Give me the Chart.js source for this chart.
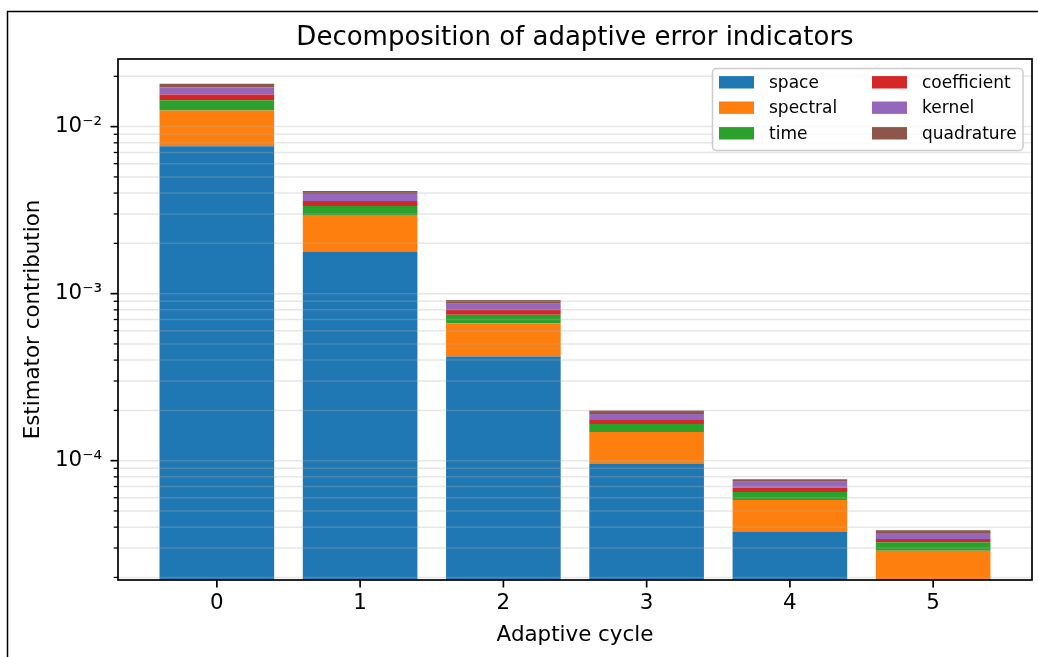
<!DOCTYPE html>
<html>
<head>
<meta charset="utf-8">
<script src="https://cdn.jsdelivr.net/npm/chart.js@4"></script>
<style>
  html, body { margin: 0; padding: 0; background: #fff; }
  #wrap { width: 1038px; height: 657px; }
</style>
</head>
<body>
<div id="wrap"><canvas id="chart" width="1038" height="657"></canvas></div>
<script>
const cycles = [0, 1, 2, 3, 4, 5];

// contributions per adaptive cycle, stacked bottom to top
const space = [7.63e-3, 1.79e-3, 4.20e-4, 9.55e-5, 3.76e-5, 1.9e-5];
const spectral = [4.84e-3, 1.14e-3, 2.45e-4, 5.31e-5, 2.06e-5, 0.99e-5];
const time = [1.92e-3, 4.2e-4, 8.3e-5, 1.74e-5, 6.8e-6, 3.6e-6];
const coefficient = [1.17e-3, 2.4e-4, 5.0e-5, 1.10e-5, 3.9e-6, 1.5e-6];
const kernel = [1.58e-3, 3.6e-4, 7.3e-5, 1.35e-5, 6.0e-6, 2.9e-6];
const quadrature = [8.9e-4, 1.7e-4, 4.5e-5, 9.5e-6, 2.5e-6, 1.4e-6];

const seriesNames = ['space', 'spectral', 'time', 'coefficient', 'kernel', 'quadrature'];
const seriesValues = [space, spectral, time, coefficient, kernel, quadrature];
const seriesColors = ['#1f77b4', '#ff7f0e', '#2ca02c', '#d62728', '#9467bd', '#8c564b'];

// log axis: decades with minor steps 2..9
const yMin = 1.93e-5;
const yMax = 2.54e-2;
const decadeExps = [-5, -4, -3, -2];
const minorSteps = [2, 3, 4, 5, 6, 7, 8, 9];
const majorLabels = { '-4': '10⁻⁴', '-3': '10⁻³', '-2': '10⁻²' };

const FONT = 'DejaVu Sans';
Chart.defaults.font.family = FONT;
Chart.defaults.color = '#000';

function isDecade(v) {
  const e = Math.round(Math.log10(v));
  return Math.abs(v / Math.pow(10, e) - 1) < 1e-6;
}

function yTickValues() {
  const vals = [];
  decadeExps.forEach(e => {
    const base = Math.pow(10, e);
    vals.push(base);
    minorSteps.forEach(m => vals.push(m * base));
  });
  return vals.filter(v => v >= yMin && v <= yMax);
}

// outer frame, grid over bars, tick marks and axes box
const axesDecor = {
  id: 'axesDecor',
  beforeDraw(c) {
    const ctx = c.ctx;
    ctx.save();
    ctx.strokeStyle = '#000';
    ctx.lineWidth = 1.5;
    ctx.beginPath();
    ctx.moveTo(7.5, c.height);
    ctx.lineTo(7.5, 11.5);
    ctx.lineTo(c.width, 11.5);
    ctx.stroke();
    ctx.restore();
  },
  afterDatasetsDraw(c) {
    const { ctx, chartArea: a, scales: { x, y } } = c;
    const line = (x1, y1, x2, y2) => {
      ctx.beginPath();
      ctx.moveTo(x1, y1);
      ctx.lineTo(x2, y2);
      ctx.stroke();
    };
    ctx.save();
    ctx.strokeStyle = 'rgba(176, 176, 176, 0.3)';
    ctx.lineWidth = 1.5;
    y.ticks.forEach(t => {
      const py = y.getPixelForValue(t.value);
      line(a.left, py, a.right, py);
    });

    ctx.strokeStyle = '#000';
    y.ticks.forEach(t => {
      const py = y.getPixelForValue(t.value);
      const major = isDecade(t.value);
      ctx.lineWidth = major ? 1.7 : 1.3;
      line(a.left - (major ? 7.5 : 4.3), py, a.left, py);
    });
    ctx.lineWidth = 1.7;
    x.ticks.forEach(t => {
      const px = x.getPixelForValue(t.value);
      line(px, a.bottom, px, a.bottom + 7.5);
    });
    ctx.strokeRect(a.left, a.top, a.right - a.left, a.bottom - a.top);
    ctx.restore();
  }
};

// two-column legend in the upper right corner
const columnLegend = {
  id: 'columnLegend',
  afterDraw(c) {
    const ctx = c.ctx;
    const box = { x: 712.5, y: 68.5, w: 310.5, h: 82 };
    ctx.save();
    ctx.fillStyle = 'rgba(255, 255, 255, 0.8)';
    ctx.strokeStyle = '#cccccc';
    ctx.lineWidth = 1.5;
    ctx.beginPath();
    ctx.roundRect(box.x, box.y, box.w, box.h, 4);
    ctx.fill();
    ctx.stroke();

    const colX = [719, 872];
    const rowY = [82.3, 107.7, 133.3];
    ctx.font = '17px "' + FONT + '"';
    ctx.textBaseline = 'middle';
    ctx.textAlign = 'left';
    c.data.datasets.forEach((ds, i) => {
      const cx = colX[Math.floor(i / 3)];
      const cy = rowY[i % 3];
      ctx.fillStyle = ds.backgroundColor;
      ctx.fillRect(cx, cy - 6.2, 35, 12.4);
      ctx.fillStyle = '#000';
      ctx.fillText(ds.label, cx + 50, cy + 1);
    });
    ctx.restore();
  }
};

const datasets = seriesNames.map((name, i) => ({
  label: name,
  data: cycles.map((cyc, j) => ({ x: cyc, y: seriesValues[i][j] })),
  backgroundColor: seriesColors[i],
  borderWidth: 0,
  categoryPercentage: 1,
  barPercentage: 0.8
}));

new Chart(document.getElementById('chart'), {
  type: 'bar',
  data: { datasets: datasets },
  options: {
    responsive: false,
    animation: false,
    layout: { padding: { left: 0, right: 6, top: 0, bottom: 0 } },
    plugins: {
      legend: { display: false },
      tooltip: { enabled: false },
      title: {
        display: true,
        fullSize: false,
        text: 'Decomposition of adaptive error indicators',
        font: { size: 26, weight: 'normal' },
        color: '#000',
        padding: { top: 22.4, bottom: 5.4 }
      }
    },
    scales: {
      x: {
        type: 'linear',
        stacked: true,
        offset: false,
        min: -0.69,
        max: 5.69,
        bounds: 'data',
        grid: { display: false, drawTicks: false, offset: false },
        border: { display: false },
        afterBuildTicks: scale => {
          scale.ticks = cycles.map(v => ({ value: v }));
        },
        afterFit: scale => { scale.height = 77; },
        ticks: {
          font: { size: 21.4 },
          color: '#000',
          padding: 11,
          maxRotation: 0,
          callback: v => String(v)
        },
        title: {
          display: true,
          text: 'Adaptive cycle',
          font: { size: 21.4 },
          color: '#000',
          padding: { top: 0, bottom: 9 }
        }
      },
      y: {
        type: 'logarithmic',
        stacked: true,
        min: yMin,
        max: yMax,
        bounds: 'data',
        grid: { display: false, drawTicks: false },
        border: { display: false },
        afterBuildTicks: scale => {
          scale.ticks = yTickValues().map(v => ({ value: v }));
        },
        afterFit: scale => { scale.width = 118; },
        ticks: {
          font: { size: 21.4 },
          color: '#000',
          padding: 16,
          autoSkip: false,
          callback: v => {
            if (!isDecade(v)) return '';
            return majorLabels[String(Math.round(Math.log10(v)))] || '';
          }
        },
        title: {
          display: true,
          text: 'Estimator contribution',
          font: { size: 21.4 },
          color: '#000',
          padding: { top: 20.3, bottom: 0 }
        }
      }
    }
  },
  plugins: [axesDecor, columnLegend]
});
</script>
</body>
</html>
